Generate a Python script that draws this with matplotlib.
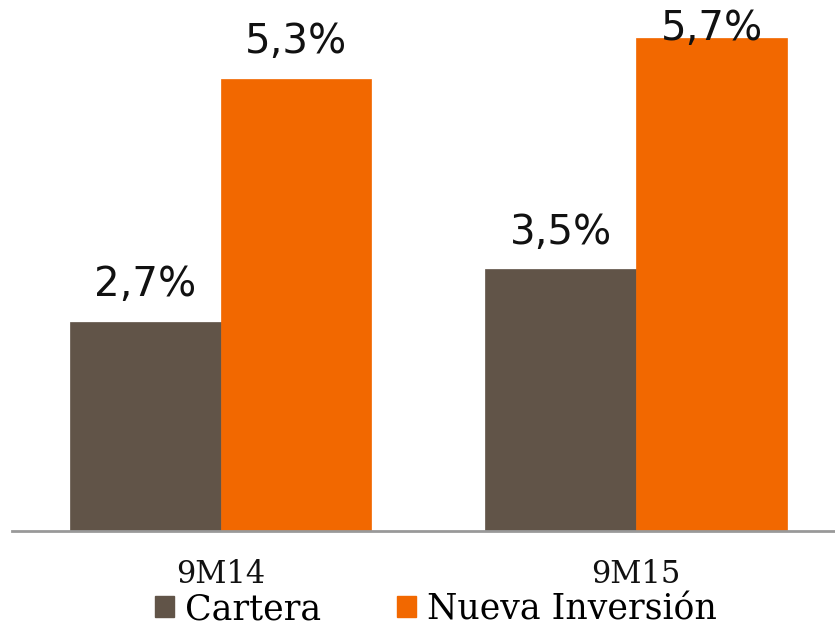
import matplotlib
matplotlib.use("Agg")
import matplotlib.pyplot as plt
import numpy as np
from matplotlib.patches import Patch

categories = ["9M14", "9M15"]
series_names = ["Cartera", "Nueva Inversión"]
cartera = [2.42, 3.03]
nueva = [5.23, 5.70]
cartera_labels = ["2,7%", "3,5%"]
nueva_labels = ["5,3%", "5,7%"]
colors = ["#615448", "#F26800"]

fig = plt.figure(figsize=(8.35, 6.27), dpi=100)
ax = fig.add_axes([12/835, (627-531)/627, 832/835, 531/627])
x = np.arange(len(categories))
w = 0.363
ymax = 6.14
b1 = ax.bar(x - w/2, cartera, w, color=colors[0], edgecolor=colors[0], linewidth=0.5)
b2 = ax.bar(x + w/2, nueva, w, color=colors[1], edgecolor=colors[1], linewidth=0.5)
ax.set_xlim(-0.502, 1.5)
ax.set_ylim(0, ymax)

for bars, labs in ((b1, cartera_labels), (b2, nueva_labels)):
    for r, t in zip(bars, labs):
        yv = min(r.get_height() + 0.42, ymax - 0.33)
        ax.text(r.get_x() + r.get_width()/2, yv, t, ha="center", va="center",
                fontsize=29, family="DejaVu Sans", color="#111111")

for s in ["top", "right", "left"]:
    ax.spines[s].set_visible(False)
ax.spines["bottom"].set_color("#999999")
ax.spines["bottom"].set_linewidth(2)
ax.set_yticks([])
ax.set_xticks(x)
ax.set_xticklabels(categories, fontsize=22, family="DejaVu Serif", color="#111111")
ax.tick_params(axis="x", length=0, pad=20)

handles = [Patch(color=colors[0]), Patch(color=colors[1])]
fig.legend(handles, series_names, loc="center", bbox_to_anchor=(436/835, 1 - 609/627),
           ncol=2, frameon=False, prop={"family": "DejaVu Serif", "size": 25},
           handlelength=0.55, handleheight=0.55, handletextpad=0.3, columnspacing=2.2,
           borderaxespad=0, borderpad=0)

fig.savefig("out.png", dpi=100)
